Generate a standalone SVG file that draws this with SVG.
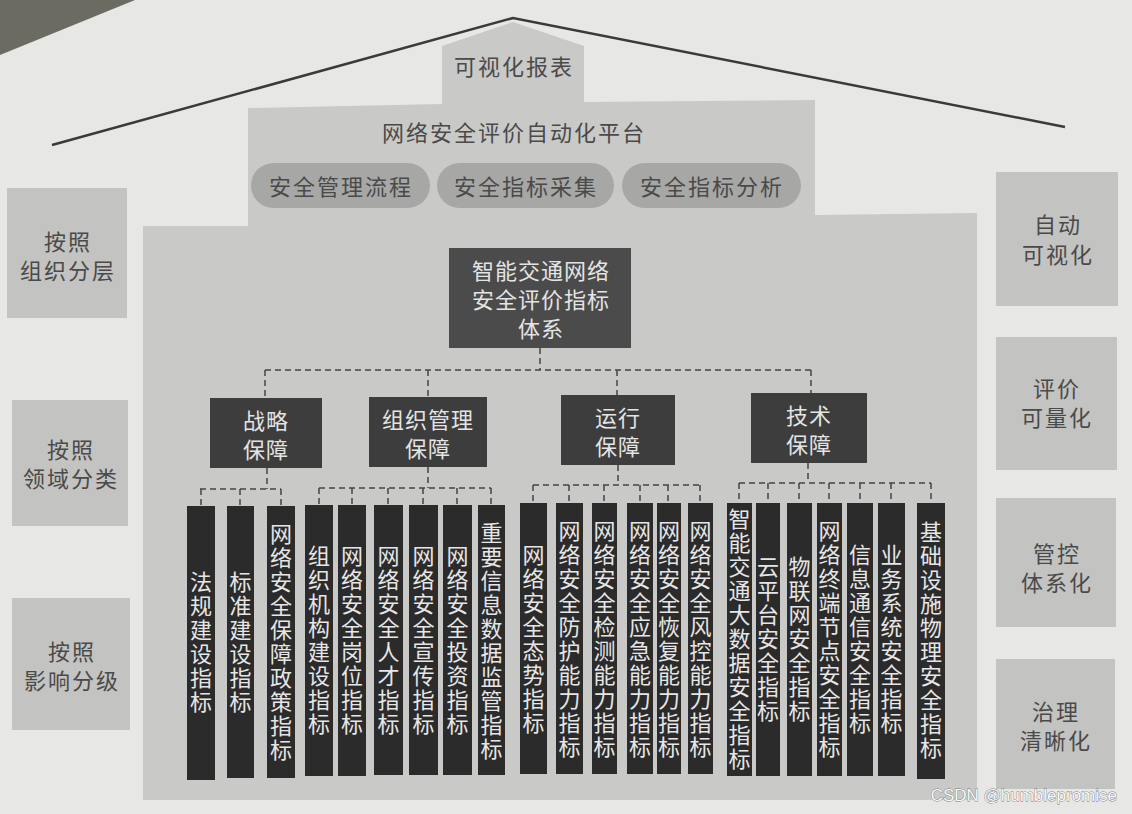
<svg xmlns="http://www.w3.org/2000/svg" width="1132" height="814" viewBox="0 0 1132 814">
<style>
text{font-family:"Noto Sans CJK SC","Noto Sans",sans-serif;}
.lt{font-size:22px;letter-spacing:2px;fill:#4a4a4a;text-anchor:middle;dominant-baseline:central;}
.wt{font-size:22px;letter-spacing:1px;fill:#e4e4e4;text-anchor:middle;dominant-baseline:central;}
.vt{font-size:22px;letter-spacing:2px;fill:#e6e6e6;writing-mode:vertical-rl;text-orientation:upright;text-anchor:middle;}
.side{fill:#c3c3c1;}
.pill{fill:#a7a7a5;}
.l2{fill:#3d3d3d;}
.leaf{fill:#2b2b2b;}
.dash{fill:none;stroke:#444;stroke-width:1.5;stroke-dasharray:6 4;}
</style>
<rect x="0" y="0" width="1132" height="814" fill="#e7e7e5"/>
<polygon points="0,0 135,0 0,55" fill="#6c6b62"/>
<!-- house body -->
<path d="M143,800 L143,226 L248,226 L248,108 L442,104 L442,46 L513,22 L584,46 L584,102 L815,100 L815,215 L977,213 L977,800 Z" fill="#c9c9c7"/>
<!-- roof -->
<polyline points="52,145 513,18 1065,127" fill="none" stroke="#3a3a3a" stroke-width="2.5"/>
<g id="report"><text class="lt" x="514" y="65">可视化报表</text></g>
<g id="platform"><text class="lt" x="514" y="131">网络安全评价自动化平台</text></g>
<g id="pill1"><rect class="pill" x="251" y="163" width="179" height="45" rx="22.5"/><text class="lt" x="341" y="185">安全管理流程</text></g>
<g id="pill2"><rect class="pill" x="437" y="163" width="177" height="45" rx="22.5"/><text class="lt" x="526" y="185">安全指标采集</text></g>
<g id="pill3"><rect class="pill" x="622" y="163" width="179" height="45" rx="22.5"/><text class="lt" x="712" y="185">安全指标分析</text></g>
<!-- left side boxes -->
<g id="left1"><rect class="side" x="7" y="188" width="120" height="130"/><text class="lt" x="68" y="240"><tspan x="68">按照</tspan><tspan x="68" dy="29">组织分层</tspan></text></g>
<g id="left2"><rect class="side" x="12" y="400" width="116" height="126"/><text class="lt" x="71" y="448"><tspan x="71">按照</tspan><tspan x="71" dy="29">领域分类</tspan></text></g>
<g id="left3"><rect class="side" x="12" y="598" width="118" height="132"/><text class="lt" x="72" y="650"><tspan x="72">按照</tspan><tspan x="72" dy="29">影响分级</tspan></text></g>
<!-- right side boxes -->
<g id="right1"><rect class="side" x="996" y="172" width="122" height="134"/><text class="lt" x="1058" y="223"><tspan x="1058">自动</tspan><tspan x="1058" dy="30">可视化</tspan></text></g>
<g id="right2"><rect class="side" x="996" y="337" width="121" height="133"/><text class="lt" x="1057" y="387"><tspan x="1057">评价</tspan><tspan x="1057" dy="29">可量化</tspan></text></g>
<g id="right3"><rect class="side" x="996" y="498" width="120" height="129"/><text class="lt" x="1057" y="552"><tspan x="1057">管控</tspan><tspan x="1057" dy="29">体系化</tspan></text></g>
<g id="right4"><rect class="side" x="996" y="659" width="119" height="130"/><text class="lt" x="1056" y="710"><tspan x="1056">治理</tspan><tspan x="1056" dy="29">清晰化</tspan></text></g>
<!-- connectors -->
<g id="connectors">
<path class="dash" d="M540,348 V370 M265,370 H811 M265,370 V398 M428,370 V397 M617,370 V395 M811,370 V393"/>
<path class="dash" d="M267,468 V489 M200,489 H281 M201,489 V506 M240,489 V506 M281,489 V506"/>
<path class="dash" d="M428,467 V488 M319,488 H491 M319,488 V505 M352,488 V505 M388,488 V505 M423,488 V505 M457,488 V505 M491,488 V505"/>
<path class="dash" d="M618,465 V485 M533,485 H700 M533,485 V503 M569,485 V503 M604,485 V503 M640,485 V503 M668,485 V503 M700,485 V503"/>
<path class="dash" d="M808,463 V483 M739,483 H931 M739,483 V503 M768,483 V503 M799,483 V503 M829,483 V503 M860,483 V503 M891,483 V503 M931,483 V503"/>
</g>
<!-- root -->
<g id="root"><rect x="449" y="248" width="182" height="100" fill="#4b4b4b"/>
<text class="wt" x="541" y="269"><tspan x="541">智能交通网络</tspan><tspan x="541" dy="29">安全评价指标</tspan><tspan x="541" dy="29">体系</tspan></text></g>
<!-- level 2 -->
<g id="l2-1"><rect class="l2" x="210" y="398" width="112" height="70"/><text class="wt" x="266" y="419"><tspan x="266">战略</tspan><tspan x="266" dy="29">保障</tspan></text></g>
<g id="l2-2"><rect class="l2" x="369" y="397" width="118" height="70"/><text class="wt" x="428" y="418"><tspan x="428">组织管理</tspan><tspan x="428" dy="29">保障</tspan></text></g>
<g id="l2-3"><rect class="l2" x="561" y="395" width="114" height="70"/><text class="wt" x="618" y="416"><tspan x="618">运行</tspan><tspan x="618" dy="29">保障</tspan></text></g>
<g id="l2-4"><rect class="l2" x="751" y="393" width="116" height="70"/><text class="wt" x="809" y="414"><tspan x="809">技术</tspan><tspan x="809" dy="29">保障</tspan></text></g>
<!-- leaves -->
<g id="leaf1"><rect class="leaf" x="187" y="506" width="28" height="274"/><text class="vt" x="201" y="643">法规建设指标</text></g>
<g id="leaf2"><rect class="leaf" x="227" y="506" width="27" height="272"/><text class="vt" x="240.5" y="643">标准建设指标</text></g>
<g id="leaf3"><rect class="leaf" x="267" y="506" width="28" height="272"/><text class="vt" x="281" y="643">网络安全保障政策指标</text></g>
<g id="leaf4"><rect class="leaf" x="305" y="505" width="28" height="271"/><text class="vt" x="319" y="641">组织机构建设指标</text></g>
<g id="leaf5"><rect class="leaf" x="338" y="505" width="28" height="271"/><text class="vt" x="352" y="641">网络安全岗位指标</text></g>
<g id="leaf6"><rect class="leaf" x="374" y="505" width="29" height="270"/><text class="vt" x="388.5" y="641">网络安全人才指标</text></g>
<g id="leaf7"><rect class="leaf" x="409" y="505" width="29" height="270"/><text class="vt" x="423.5" y="641">网络安全宣传指标</text></g>
<g id="leaf8"><rect class="leaf" x="443" y="505" width="29" height="270"/><text class="vt" x="457.5" y="641">网络安全投资指标</text></g>
<g id="leaf9"><rect class="leaf" x="478" y="505" width="27" height="270"/><text class="vt" x="491.5" y="642">重要信息数据监管指标</text></g>
<g id="leaf10"><rect class="leaf" x="520" y="503" width="27" height="271"/><text class="vt" x="533.5" y="640">网络安全态势指标</text></g>
<g id="leaf11"><rect class="leaf" x="556" y="503" width="27" height="271"/><text class="vt" x="569.5" y="640">网络安全防护能力指标</text></g>
<g id="leaf12"><rect class="leaf" x="592" y="503" width="25" height="271"/><text class="vt" x="604.5" y="640">网络安全检测能力指标</text></g>
<g id="leaf13"><rect class="leaf" x="627" y="503" width="26" height="271"/><text class="vt" x="640" y="640">网络安全应急能力指标</text></g>
<g id="leaf14"><rect class="leaf" x="657" y="503" width="24" height="271"/><text class="vt" x="669" y="640">网络安全恢复能力指标</text></g>
<g id="leaf15"><rect class="leaf" x="688" y="503" width="25" height="271"/><text class="vt" x="700.5" y="640">网络安全风控能力指标</text></g>
<g id="leaf16"><rect class="leaf" x="727" y="503" width="25" height="273"/><text class="vt" x="739.5" y="640">智能交通大数据安全指标</text></g>
<g id="leaf17"><rect class="leaf" x="756" y="503" width="24" height="273"/><text class="vt" x="768" y="640">云平台安全指标</text></g>
<g id="leaf18"><rect class="leaf" x="787" y="503" width="25" height="273"/><text class="vt" x="799.5" y="640">物联网安全指标</text></g>
<g id="leaf19"><rect class="leaf" x="817" y="503" width="25" height="273"/><text class="vt" x="829.5" y="640">网络终端节点安全指标</text></g>
<g id="leaf20"><rect class="leaf" x="847" y="503" width="26" height="273"/><text class="vt" x="860" y="640">信息通信安全指标</text></g>
<g id="leaf21"><rect class="leaf" x="878" y="503" width="27" height="273"/><text class="vt" x="891.5" y="640">业务系统安全指标</text></g>
<g id="leaf22"><rect class="leaf" x="917" y="503" width="28" height="276"/><text class="vt" x="931" y="641">基础设施物理安全指标</text></g>
<text x="1117" y="801" text-anchor="end" style="font-family:'Liberation Sans',Arial,sans-serif;font-size:17px;fill:#f7f7f7;stroke:#777;stroke-width:0.8px;paint-order:stroke;">CSDN @humblepromise</text>
</svg>
